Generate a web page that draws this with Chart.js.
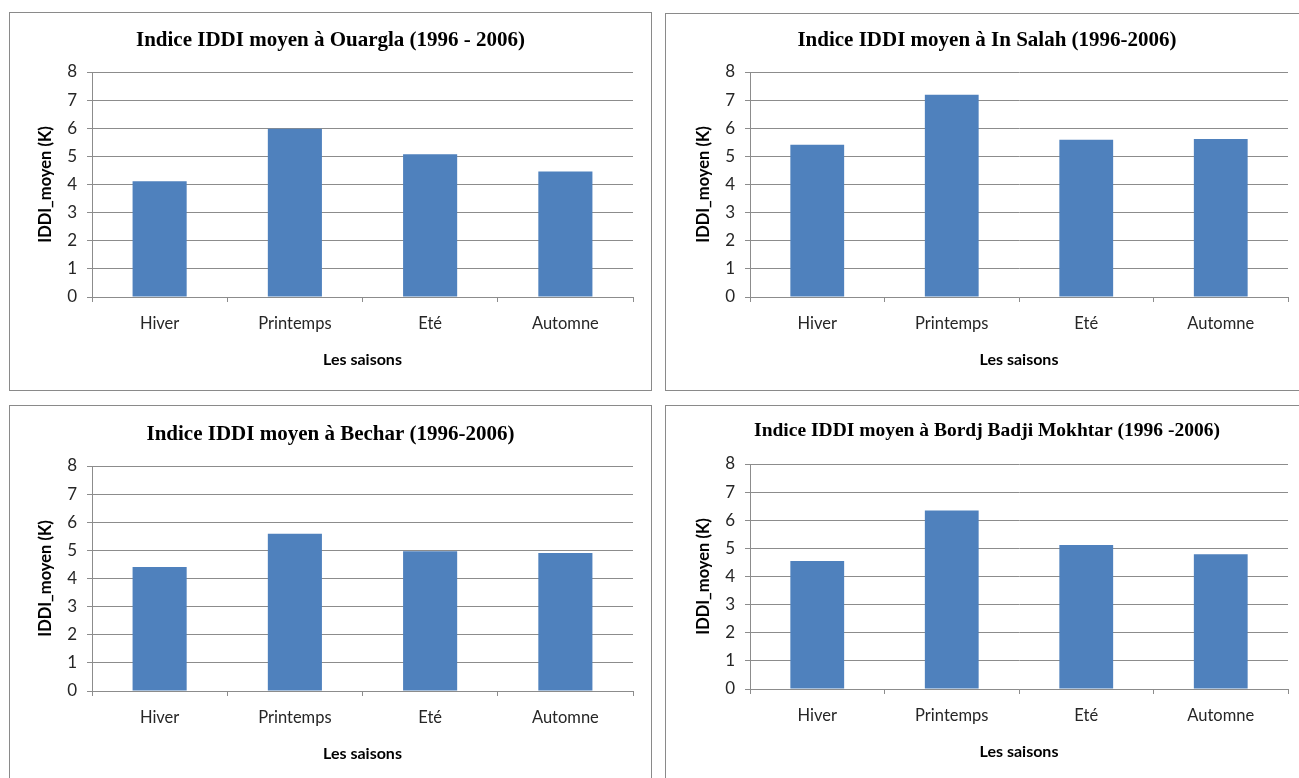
<!DOCTYPE html>
<html>
<head>
<meta charset="utf-8">
<script src="https://cdn.jsdelivr.net/npm/chart.js@4/dist/chart.umd.min.js"></script>
<style>
  body { margin: 0; background: #fff; width: 1299px; height: 778px; overflow: hidden; position: relative; }
  .panel { position: absolute; border: 1px solid #8a8a8a; box-sizing: border-box; background: #fff; }
  .panel canvas { display: block; }
</style>
</head>
<body>
<div class="panel" style="left:9px;top:12px;width:643px;height:379px"><canvas id="c1" width="641" height="377"></canvas></div>
<div class="panel" style="left:665px;top:13px;width:642px;height:378px"><canvas id="c2" width="640" height="376"></canvas></div>
<div class="panel" style="left:9px;top:405px;width:643px;height:400px"><canvas id="c3" width="641" height="378"></canvas></div>
<div class="panel" style="left:665px;top:405px;width:642px;height:400px"><canvas id="c4" width="640" height="376"></canvas></div>

<script>
// saisons et valeurs moyennes de l'indice IDDI (K)
const saisons = ['Hiver', 'Printemps', 'Eté', 'Automne'];
const ouargla = [4.12, 5.98, 5.08, 4.46];
const inSalah = [5.41, 7.19, 5.59, 5.62];
const bechar = [4.41, 5.59, 4.97, 4.91];
const bordj = [4.55, 6.35, 5.12, 4.79];
const yMin = 0, yMax = 8, yStep = 1;

const grille = '#8c8c8c';
const bleu = '#4f81bd';

// Fonction pour générer un graphique en barres
function generateChart(canvasId, titre, valeurs, taille, padTitre, padGauche) {
    const ctx = document.getElementById(canvasId).getContext('2d');
    new Chart(ctx, {
        type: 'bar',
        data: {
            labels: saisons,
            datasets: [{
                data: valeurs,
                backgroundColor: bleu,
                borderWidth: 0,
                barPercentage: 0.4,
                categoryPercentage: 1
            }]
        },
        options: {
            responsive: false,
            animation: false,
            // marges symétriques pour centrer le titre
            layout: { padding: { left: padGauche + 18, right: 18, top: 0, bottom: 17 } },
            plugins: {
                legend: { display: false },
                tooltip: { enabled: false },
                title: {
                    display: true,
                    text: titre,
                    color: '#000',
                    font: { family: 'Liberation Serif', size: taille, weight: 'bold' },
                    padding: padTitre
                }
            },
            scales: {
                x: {
                    afterFit: s => { s.height = 76; },
                    grid: { display: true, drawOnChartArea: false, offset: true, color: grille, tickLength: 5 },
                    border: { color: grille },
                    ticks: { color: '#262626', padding: 12, font: { family: 'Lato', size: 16.5 } },
                    title: {
                        display: true,
                        text: 'Les saisons',
                        color: '#000',
                        font: { family: 'Lato', size: 16, weight: 'bold' },
                        padding: { top: 0, bottom: 4 }
                    }
                },
                y: {
                    min: yMin,
                    max: yMax,
                    afterFit: s => { s.width = 64; },
                    grid: { color: grille, tickLength: 5 },
                    border: { color: grille },
                    ticks: { stepSize: yStep, color: '#262626', padding: 10, font: { family: 'Lato', size: 17 } },
                    title: {
                        display: true,
                        text: 'IDDI_moyen (K)',
                        color: '#000',
                        font: { family: 'Lato', size: 16.5, weight: 'bold' },
                        padding: { top: 8, bottom: 0 }
                    }
                }
            }
        }
    });
}

generateChart('c1', 'Indice IDDI moyen à Ouargla (1996 - 2006)', ouargla, 21, { top: 15.4, bottom: 18.4 }, 0);
generateChart('c2', 'Indice IDDI moyen à In Salah (1996-2006)', inSalah, 21, { top: 14.4, bottom: 18.4 }, 2);
generateChart('c3', 'Indice IDDI moyen à Bechar (1996-2006)', bechar, 21, { top: 16.4, bottom: 18.4 }, 0);
generateChart('c4', 'Indice IDDI moyen à Bordj Badji Mokhtar (1996 -2006)', bordj, 19.5, { top: 13.3, bottom: 21.3 }, 2);
</script>
</body>
</html>
